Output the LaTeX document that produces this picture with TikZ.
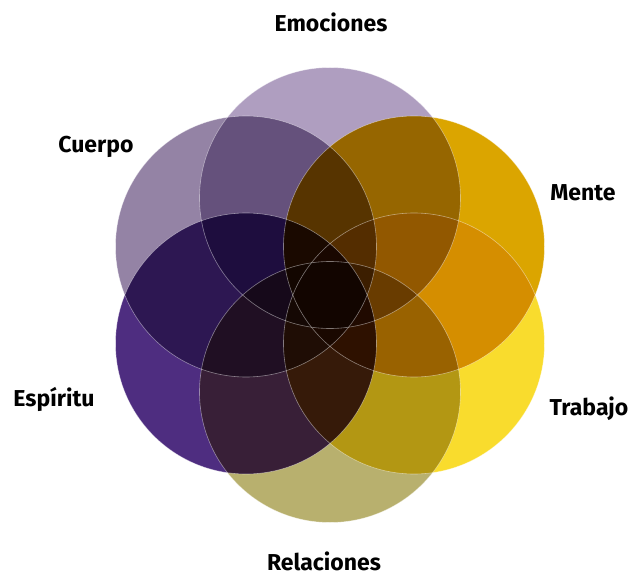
\documentclass[tikz,border=0pt]{standalone}
\usepackage{fontspec}
\setmainfont{Fira Sans}
\definecolor{cEmo}{RGB}{175,158,192}
\definecolor{cMen}{RGB}{219,165,0}
\definecolor{cTra}{RGB}{249,220,45}
\definecolor{cRel}{RGB}{184,176,110}
\definecolor{cEsp}{RGB}{78,45,128}
\definecolor{cCue}{RGB}{148,131,165}
\begin{document}
\begin{tikzpicture}[x=1pt,y=-1pt,
  lbl/.style={font=\fontsize{23}{26}\selectfont\bfseries, text=black, inner sep=0pt},
  edge/.style={draw=white, draw opacity=0.45, line width=0.6pt}]
\useasboundingbox (0,0) rectangle (641,575);
\def\R{130.5}
\coordinate (O) at (330,295);
\coordinate (emo) at ([shift={(90:97)}]330,295);
\coordinate (emo) at (330,198);
\coordinate (men) at (414,246.5);
\coordinate (tra) at (414,343.5);
\coordinate (rel) at (330,392);
\coordinate (esp) at (246,343.5);
\coordinate (cue) at (246,246.5);
\begin{scope}[blend group=multiply]
  \fill[cEmo] (emo) circle (\R);
  \fill[cMen] (men) circle (\R);
  \fill[cTra] (tra) circle (\R);
  \fill[cRel] (rel) circle (\R);
  \fill[cEsp] (esp) circle (\R);
  \fill[cCue] (cue) circle (\R);
\end{scope}
\foreach \c in {emo,men,tra,rel,esp,cue}{\path[edge] (\c) circle (\R);}
\node[lbl] (lEmo) at (331,22) {Emociones};
\node[lbl] (lCue) at (96,147) {Cuerpo};
\node[lbl] (lMen) at (583,193) {Mente};
\node[lbl] (lTra) at (589,409) {Trabajo};
\node[lbl] (lEsp) at (54,399) {Espíritu};
\node[lbl] (lRel) at (324,561) {Relaciones};
\end{tikzpicture}
\end{document}
